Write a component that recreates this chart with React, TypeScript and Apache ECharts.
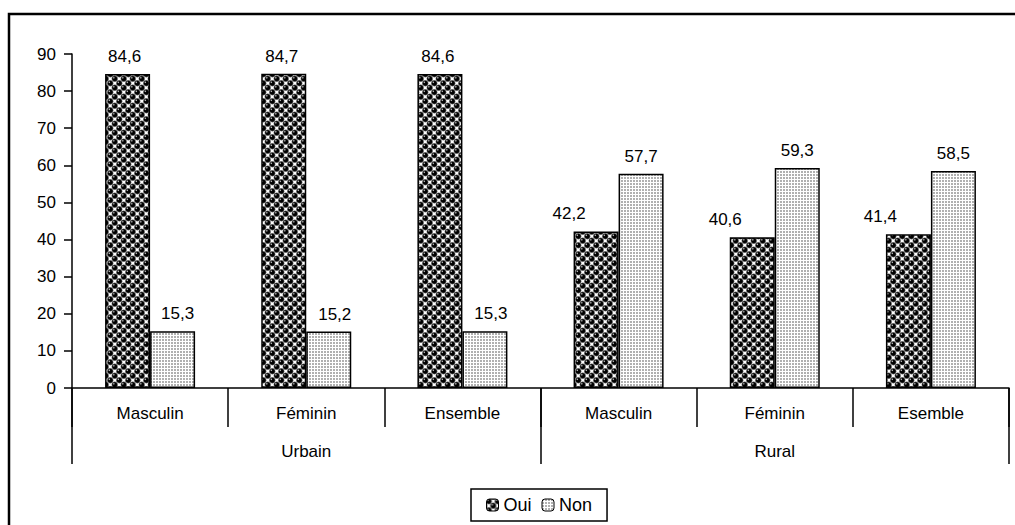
import React, { useEffect, useRef } from "react";
import * as echarts from "echarts";

const categories = ["Masculin", "Féminin", "Ensemble", "Masculin", "Féminin", "Esemble"];
const groups = ["Urbain", "Rural"];
const ouiValues = [84.6, 84.7, 84.6, 42.2, 40.6, 41.4];
const nonValues = [15.3, 15.2, 15.3, 57.7, 59.3, 58.5];
const yTicks = { min: 0, max: 90, interval: 10 };
// horizontal nudges of the value labels (style only)
const ouiLabelDx = [-3, -2, -2, -27, -27, -28];
const nonLabelDx = [5, 6, 6, 0, 0, 0];

const FONT = "'Liberation Sans', Arial, sans-serif";

function makeOuiPattern(): HTMLCanvasElement {
  const s = 9;
  const c = document.createElement("canvas");
  c.width = s;
  c.height = s;
  const ctx = c.getContext("2d")!;
  ctx.fillStyle = "#fff";
  ctx.fillRect(0, 0, s, s);
  const centers = [
    [2.25, 2.25],
    [6.75, 6.75],
  ];
  for (const [cx, cy] of centers) {
    for (const dx of [-s, 0, s]) {
      for (const dy of [-s, 0, s]) {
        const x = cx + dx;
        const y = cy + dy;
        ctx.beginPath();
        ctx.arc(x, y, 2.9, 0, Math.PI * 2);
        ctx.fillStyle = "#000";
        ctx.fill();
        ctx.lineWidth = 0.5;
        ctx.strokeStyle = "#888";
        ctx.stroke();
        ctx.beginPath();
        ctx.arc(x - 0.9, y - 0.9, 0.8, 0, Math.PI * 2);
        ctx.fillStyle = "#bbb";
        ctx.fill();
      }
    }
  }
  return c;
}

function makeNonPattern(): HTMLCanvasElement {
  const c = document.createElement("canvas");
  c.width = 3;
  c.height = 3;
  const ctx = c.getContext("2d")!;
  ctx.fillStyle = "#fff";
  ctx.fillRect(0, 0, 3, 3);
  ctx.fillStyle = "#b0b0b0";
  ctx.fillRect(0, 0, 2, 2);
  return c;
}

export default function App() {
  const ref = useRef<HTMLDivElement>(null);

  useEffect(() => {
    if (!ref.current) return;
    const chart = echarts.init(ref.current, undefined, { renderer: "svg" });
    const ouiPat = { image: makeOuiPattern(), repeat: "repeat" };
    const nonPat = { image: makeNonPattern(), repeat: "repeat" };
    const fmt = (p: any) => String(p.value).replace(".", ",");
    const labelBase = {
      show: true,
      position: "top",
      distance: 9,
      color: "#000",
      fontSize: 17,
      fontFamily: FONT,
      formatter: fmt,
    };

    chart.setOption({
      animation: false,
      backgroundColor: "#fff",
      textStyle: { fontFamily: FONT, color: "#000" },
      grid: { left: 72, right: 6, top: 54, bottom: 137, containLabel: false },
      legend: {
        data: ["Oui", "Non"],
        left: 471,
        top: 489,
        orient: "horizontal",
        itemWidth: 12,
        itemHeight: 12,
        itemGap: 10,
        padding: [7, 15],
        borderColor: "#000",
        borderWidth: 1.5,
        textStyle: { fontSize: 18, color: "#000", fontFamily: FONT },
        itemStyle: { borderColor: "#000", borderWidth: 1 },
      },
      xAxis: [
        {
          type: "category",
          data: categories,
          position: "bottom",
          axisLine: { show: true, lineStyle: { color: "#000", width: 1.5 } },
          axisTick: {
            show: true,
            interval: 0,
            length: 39,
            alignWithLabel: false,
            lineStyle: { color: "#000", width: 1.5 },
          },
          axisLabel: {
            interval: 0,
            margin: 17,
            color: "#000",
            fontSize: 17,
            fontFamily: FONT,
          },
          splitLine: { show: false },
        },
        {
          type: "category",
          data: groups,
          position: "bottom",
          axisLine: { show: false },
          axisTick: {
            show: true,
            interval: 0,
            length: 76,
            lineStyle: { color: "#000", width: 1.5 },
          },
          axisLabel: {
            interval: 0,
            margin: 55,
            color: "#000",
            fontSize: 17,
            fontFamily: FONT,
          },
          splitLine: { show: false },
        },
      ],
      yAxis: {
        type: "value",
        min: yTicks.min,
        max: yTicks.max,
        interval: yTicks.interval,
        axisLine: { show: true, lineStyle: { color: "#000", width: 1.5 } },
        axisTick: { show: true, length: 8, lineStyle: { color: "#000", width: 1.5 } },
        axisLabel: { margin: 16, color: "#000", fontSize: 17, fontFamily: FONT },
        splitLine: { show: false },
      },
      series: [
        {
          name: "Oui",
          type: "bar",
          xAxisIndex: 0,
          barWidth: 45,
          barGap: "0%",
          itemStyle: { color: ouiPat, borderColor: "#000", borderWidth: 1.5 },
          label: labelBase,
          data: ouiValues.map((v, i) => ({
            value: v,
            label: { offset: [ouiLabelDx[i], 0] },
          })),
        },
        {
          name: "Non",
          type: "bar",
          xAxisIndex: 0,
          barWidth: 45,
          barGap: "0%",
          itemStyle: { color: nonPat, borderColor: "#000", borderWidth: 1.5 },
          label: labelBase,
          data: nonValues.map((v, i) => ({
            value: v,
            label: { offset: [nonLabelDx[i], 0] },
          })),
        },
      ],
      graphic: [
        {
          type: "polyline",
          shape: {
            points: [
              [9, 540],
              [9, 14],
              [1030, 14],
            ],
          },
          style: { stroke: "#000", lineWidth: 2.5, fill: "none" },
          silent: true,
        },
      ],
    });

    return () => chart.dispose();
  }, []);

  return (
    <div
      ref={ref}
      style={{ position: "absolute", left: 0, top: 0, width: 1015, height: 525 }}
    />
  );
}
